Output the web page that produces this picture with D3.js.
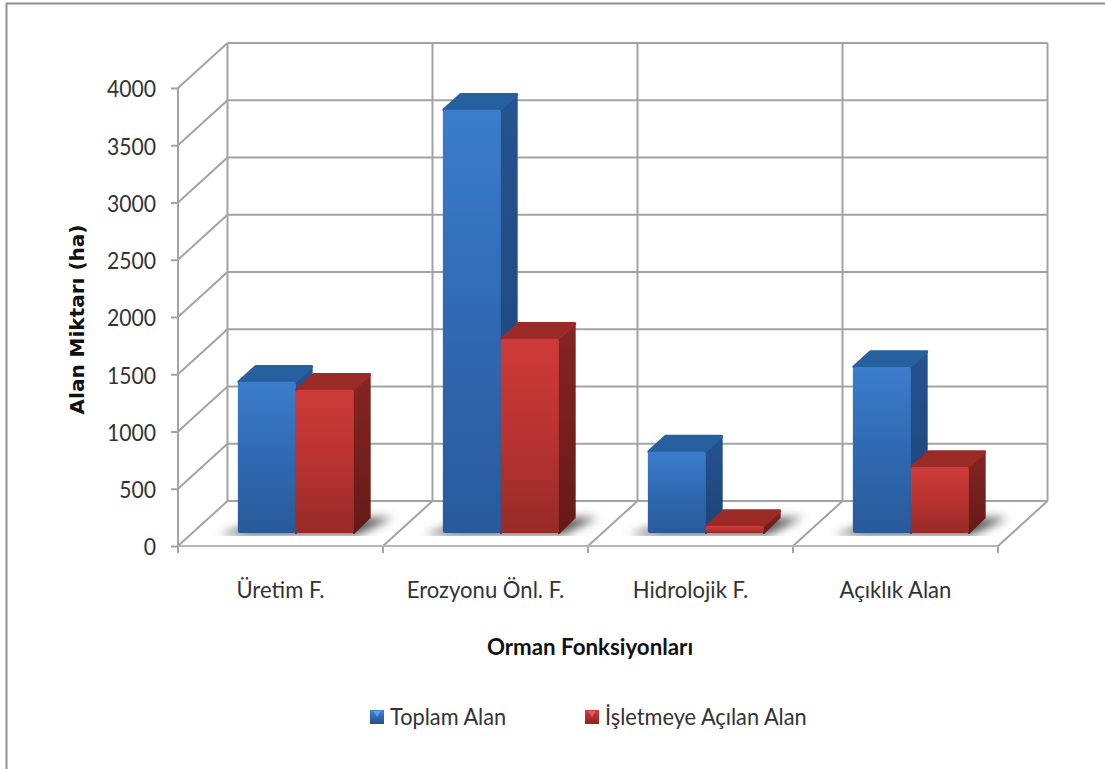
<!DOCTYPE html>
<html lang="tr">
<head>
<meta charset="utf-8">
<title>Alan Miktarı</title>
<script src="https://cdn.jsdelivr.net/npm/d3@7/dist/d3.min.js"></script>
<style>
  html, body { margin: 0; padding: 0; background: #fff; }
  svg { display: block; }
</style>
</head>
<body>
<svg id="chart" width="1105" height="769" font-family="Lato, 'Open Sans', sans-serif"></svg>
<script>
// Forest function areas, in hectares
const categories = ["Üretim F.", "Erozyonu Önl. F.", "Hidrolojik F.", "Açıklık Alan"];
const seriesNames = ["Toplam Alan", "İşletmeye Açılan Alan"];
const toplamAlan = [1320, 3695, 710, 1450];
const isletmeyeAcilan = [1250, 1695, 60, 575];
const yTicks = [0, 500, 1000, 1500, 2000, 2500, 3000, 3500, 4000];
const yAxisTitle = "Alan Miktarı (ha)";
const xAxisTitle = "Orman Fonksiyonları";

const svg = d3.select("#chart");
const defs = svg.append("defs");

// Oblique projection: depth 0 is the front of the floor, depth 1 the back wall
const depthX = 49.5, depthY = 45;
const x = d3.scaleBand().domain(categories).range([178, 998]);
const y = d3.scaleLinear().domain([0, 4000]).range([546, 88]);
const series = d3.scaleBand().domain(seriesNames).range([45.5, 161.5]);
const project = (px, value, depth) => [px + depth * depthX, y(value) - depth * depthY];
const line = (a, b) => `M${a[0]},${a[1]}L${b[0]},${b[1]}`;
const poly = pts => pts.map(p => p.join(",")).join(" ");

const gridColor = "#a3a3a3";
const textColor = "#333";
const labelFont = "Lato, 'Open Sans', sans-serif";

// Narrows or widens a text selection by a fixed proportion
function condense(sel, factor) {
  sel.each(function () {
    const len = this.getComputedTextLength();
    d3.select(this).attr("textLength", len * factor).attr("lengthAdjust", "spacingAndGlyphs");
  });
}

// Page frame
svg.append("path")
  .attr("d", "M6.5,769V3.5H1105")
  .attr("fill", "none").attr("stroke", "#8f8f8f").attr("stroke-width", 2);

function gradient(id, stops) {
  const g = defs.append("linearGradient").attr("id", id)
    .attr("x1", 0).attr("y1", 0).attr("x2", 0).attr("y2", 1);
  stops.forEach(([o, c]) => g.append("stop").attr("offset", o).attr("stop-color", c));
}
gradient("frontBlue", [[0, "#3b7dcc"], [0.5, "#3069b2"], [1, "#285a9a"]]);
gradient("sideBlue", [[0, "#255391"], [1, "#1c4374"]]);
gradient("frontRed", [[0, "#cd3b39"], [0.5, "#b93331"], [1, "#972a28"]]);
gradient("sideRed", [[0, "#852522"], [1, "#651a18"]]);
gradient("legendBlue", [[0, "#3f86d4"], [1, "#22508c"]]);
gradient("legendRed", [[0, "#d23d3b"], [1, "#8c2422"]]);
defs.append("filter").attr("id", "soft")
  .attr("x", "-30%").attr("y", "-80%").attr("width", "160%").attr("height", "260%")
  .append("feGaussianBlur").attr("stdDeviation", 5);
defs.append("clipPath").attr("id", "floorClip")
  .append("rect").attr("x", 150).attr("y", 480).attr("width", 900).attr("height", 56);

const grid = svg.append("g").attr("fill", "none").attr("stroke", gridColor).attr("stroke-width", 2);

// Horizontal gridlines on the side and back walls
yTicks.forEach(v => {
  if (v > 0) grid.append("path").attr("d", line(project(178, v, 0), project(178, v, 1)));
  grid.append("path").attr("d", line(project(178, v, 1), project(998, v, 1)));
});
// Vertical lines on the back wall, floor dividers and category ticks
const boundaries = categories.map(c => x(c)).concat([x.range()[1]]);
boundaries.forEach(px => {
  grid.append("path").attr("d", line(project(px, 0, 1), project(px, 4000, 1)));
  grid.append("path").attr("d", line(project(px, 0, 0), project(px, 0, 1)));
  grid.append("line").attr("x1", px).attr("x2", px).attr("y1", 546).attr("y2", 553);
});
grid.append("path").attr("d", line(project(178, 0, 0), project(998, 0, 0))).attr("stroke", "#b5b5b5");

// Value axis
const yAxis = svg.append("g").attr("transform", "translate(178,0)")
  .call(d3.axisLeft(y).tickValues(yTicks).tickFormat(d3.format("d")).tickSize(7).tickPadding(15));
yAxis.attr("font-family", labelFont);
yAxis.select("path.domain").attr("stroke", gridColor).attr("stroke-width", 2).attr("d", "M0,88V546");
yAxis.selectAll(".tick line").attr("stroke", gridColor).attr("stroke-width", 2);
yAxis.selectAll("text").attr("font-size", 23).attr("fill", textColor)
  .attr("dy", "0.38em").call(condense, 0.92);

// Category axis, labels centred on each band
const xAxis = svg.append("g").attr("transform", "translate(0,546)")
  .call(d3.axisBottom(x).tickSize(0).tickPadding(36));
xAxis.attr("font-family", labelFont);
xAxis.select("path.domain").remove();
xAxis.selectAll("text").attr("font-size", 23).attr("fill", textColor)
  .call(condense, 0.96);

// Soft shadows cast on the floor
const frontDepth = 0.29, backDepth = 0.63;
const shadows = svg.append("g").attr("clip-path", "url(#floorClip)");
categories.forEach(cat => {
  const left = x(cat) + series.range()[0];
  const right = x(cat) + series.range()[1];
  shadows.append("polygon")
    .attr("points", poly([
      project(left - 17, 0, frontDepth - 0.04),
      project(right + 6, 0, frontDepth - 0.04),
      project(right + 22, 0, backDepth),
      project(left + 20, 0, backDepth)
    ]))
    .attr("fill", "#5a5a5a").attr("filter", "url(#soft)");
});

// Bars: side, top and front faces with softened corners
categories.forEach((cat, i) => {
  const values = [toplamAlan[i], isletmeyeAcilan[i]];
  seriesNames.forEach((name, s) => {
    const v = values[s];
    const x0 = x(cat) + series(name), x1 = x0 + series.bandwidth();
    const tone = s === 0 ? "Blue" : "Red";
    const sideFill = `url(#side${tone})`;
    const frontFill = `url(#front${tone})`;
    const topFill = s === 0 ? "#27609f" : "#9a2b27";
    const g = svg.append("g").attr("stroke-linejoin", "round");
    g.append("polygon")
      .attr("points", poly([project(x1, v, frontDepth), project(x1 - 1, v, backDepth), project(x1 - 1, 0, backDepth), project(x1, 0, frontDepth)]))
      .attr("fill", sideFill).attr("stroke", sideFill).attr("stroke-width", 2);
    g.append("polygon")
      .attr("points", poly([project(x0 + 1, v, frontDepth), project(x1 - 1, v, frontDepth), project(x1 - 1, v, backDepth), project(x0 + 1, v, backDepth)]))
      .attr("fill", topFill).attr("stroke", topFill).attr("stroke-width", 3);
    const fy0 = project(x0, v, frontDepth)[1], fy1 = project(x0, 0, frontDepth)[1];
    const fx = project(x0, 0, frontDepth)[0];
    g.append("rect")
      .attr("x", fx).attr("y", fy0).attr("width", x1 - x0).attr("height", fy1 - fy0)
      .attr("rx", 2.5).attr("fill", frontFill);
  });
});

// Axis titles
svg.append("text").attr("transform", "translate(84,319.5) rotate(-90)")
  .attr("text-anchor", "middle").attr("font-size", 20).attr("font-weight", 700)
  .attr("font-family", "'DejaVu Sans', sans-serif").attr("fill", "#111").text(yAxisTitle);
svg.append("text").attr("x", 590).attr("y", 655)
  .attr("text-anchor", "middle").attr("font-size", 22.3).attr("font-weight", 700).attr("fill", "#111").text(xAxisTitle);

// Legend
const legendX = d3.scaleOrdinal().domain(seriesNames).range([370, 585]);
seriesNames.forEach((name, s) => {
  const lx = legendX(name);
  svg.append("rect").attr("x", lx).attr("y", 710).attr("width", 14).attr("height", 14)
    .attr("fill", s === 0 ? "url(#legendBlue)" : "url(#legendRed)");
  svg.append("path").attr("d", `M${lx + 3},711L${lx + 11},711L${lx + 7},717Z`)
    .attr("fill", s === 0 ? "#5ba0e6" : "#e85a58");
  svg.append("text").attr("x", lx + 20).attr("y", 725).attr("font-size", 23).attr("fill", textColor)
    .text(name).call(condense, 0.946);
});
</script>
</body>
</html>
